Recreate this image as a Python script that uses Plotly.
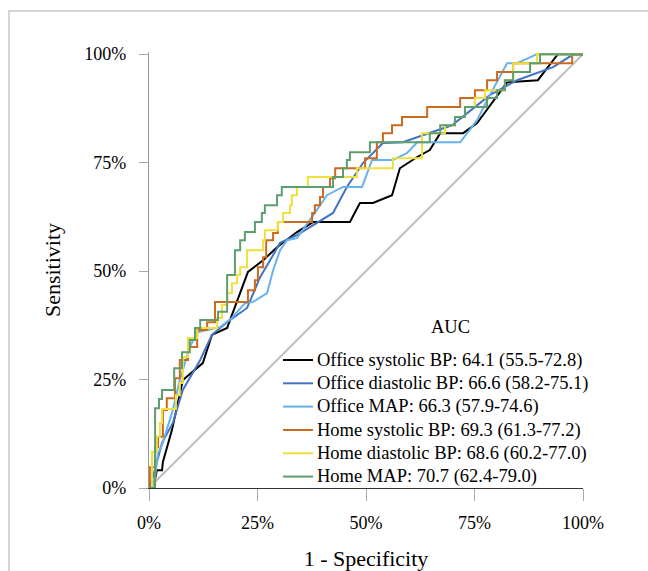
import plotly.graph_objects as go

# ---- data (values in %) ----
office_sys_x = [0, 0.9, 1.4, 1.8, 3.0, 3.2, 5.3, 7.8, 12.4, 14.5, 18.0, 22.8, 26.3, 29.5, 34.1, 37.8, 46.3, 48.6, 51.6, 56.0, 57.8, 61.8, 64.7, 67.1, 72.4, 75.6, 82.5, 89.6, 94.2, 100]
office_sys_y = [0, 0, 2.1, 4.1, 4.1, 6.0, 13.4, 24.9, 28.8, 35.3, 36.9, 49.8, 52.5, 55.5, 59.0, 61.3, 61.3, 65.7, 65.7, 67.5, 73.7, 76.3, 77.9, 81.8, 81.8, 84.1, 93.5, 94.0, 100, 100]

office_dia_x = [0, 0.7, 3.0, 5.5, 7.8, 11.8, 14.5, 18.0, 22.6, 25.6, 27.9, 30.2, 34.1, 42.4, 45.6, 49.3, 53.9, 58.5, 63.1, 69.8, 78.6, 84.8, 93.1, 97.5, 100]
office_dia_y = [0, 1.8, 10.4, 15.0, 22.6, 29.5, 35.3, 38.2, 41.5, 48.6, 52.5, 56.5, 58.3, 63.4, 69.4, 74.9, 79.5, 79.7, 81.3, 83.6, 90.6, 94.0, 97.0, 99.8, 100]

office_map_x = [0, 0.9, 1.4, 2.1, 3.0, 4.1, 5.5, 7.1, 9.4, 11.1, 16.4, 19.1, 22.1, 24.0, 27.2, 28.6, 30.2, 31.8, 34.1, 38.2, 41.0, 44.7, 49.1, 51.4, 56.2, 59.4, 61.8, 71.7, 75.6, 77.9, 82.5, 84.8, 89.4, 100]
office_map_y = [0, 0, 2.5, 8.1, 9.9, 13.4, 18.0, 24.9, 32.5, 35.9, 37.1, 39.2, 42.6, 42.9, 44.9, 50.2, 54.8, 57.1, 57.6, 63.4, 67.5, 69.4, 69.4, 75.6, 75.6, 77.2, 79.7, 79.7, 84.8, 89.4, 97.9, 97.9, 100, 100]

home_sys_x = [0, 0.2, 1.4, 2.1, 3.2, 4.1, 6.0, 7.1, 9.0, 11.1, 13.4, 15.2, 22.8, 24.4, 25.1, 26.3, 27.0, 28.6, 29.7, 37.6, 38.2, 39.4, 40.1, 41.7, 42.9, 49.8, 52.5, 53.9, 56.0, 58.3, 64.1, 71.7, 75.1, 77.9, 80.2, 83.9, 97.5, 100]
home_sys_y = [0, 4.8, 9.4, 11.8, 18.0, 20.7, 25.3, 29.5, 32.5, 36.4, 38.2, 42.9, 45.6, 47.9, 50.9, 53.2, 57.1, 58.8, 61.3, 63.4, 65.2, 67.1, 69.4, 71.4, 73.7, 76.0, 79.7, 81.8, 83.6, 85.5, 87.8, 89.9, 91.7, 94.0, 95.9, 97.9, 100, 100]

home_dia_x = [0, 0.7, 1.8, 2.5, 3.0, 6.2, 7.1, 7.8, 9.0, 11.1, 15.7, 16.8, 18.0, 19.1, 20.3, 21.0, 22.6, 26.3, 26.7, 29.7, 30.9, 32.5, 32.9, 34.1, 36.6, 47.9, 56.2, 62.9, 68.2, 70.5, 72.8, 75.1, 77.4, 82.0, 83.9, 89.4, 100]
home_dia_y = [0, 8.3, 11.8, 15.0, 18.2, 21.4, 24.2, 30.2, 34.6, 36.9, 39.2, 42.2, 44.9, 47.2, 49.1, 50.9, 54.8, 57.1, 59.4, 61.3, 63.4, 65.2, 67.5, 69.4, 71.7, 73.7, 76.0, 81.8, 83.6, 85.5, 87.8, 89.9, 91.7, 94.0, 97.9, 100, 100]

home_map_x = [0, 1.4, 2.3, 3.0, 5.8, 7.6, 9.4, 10.6, 11.8, 15.9, 18.0, 19.8, 21.0, 22.1, 24.4, 26.0, 26.7, 29.5, 30.6, 42.4, 44.7, 45.6, 46.3, 50.9, 64.7, 67.1, 70.5, 72.8, 77.9, 80.2, 82.0, 83.9, 87.8, 90.1, 100]
home_map_y = [0, 18.4, 20.5, 22.6, 27.6, 31.3, 34.1, 36.9, 38.7, 40.6, 49.1, 54.8, 57.1, 59.0, 61.3, 63.4, 65.2, 67.5, 69.4, 71.7, 73.7, 75.6, 77.4, 79.7, 81.8, 83.6, 85.5, 87.8, 89.9, 91.7, 94.0, 95.9, 97.9, 100, 100]

series_names = [
    "Office systolic BP: 64.1 (55.5-72.8)",
    "Office diastolic BP: 66.6 (58.2-75.1)",
    "Office MAP: 66.3 (57.9-74.6)",
    "Home systolic BP: 69.3 (61.3-77.2)",
    "Home diastolic BP: 68.6 (60.2-77.0)",
    "Home MAP: 70.7 (62.4-79.0)",
]
legend_title = "AUC"
x_title = "1 - Specificity"
y_title = "Sensitivity"
tick_vals = [0, 25, 50, 75, 100]
tick_text = ["0%", "25%", "50%", "75%", "100%"]
ref_line = [0, 100]

colors = ["#000000", "#4472c4", "#67b2ea", "#cc6a1e", "#f0e03c", "#5e9e6e"]
series = [
    (office_sys_x, office_sys_y, "linear"),
    (office_dia_x, office_dia_y, "linear"),
    (office_map_x, office_map_y, "linear"),
    (home_sys_x, home_sys_y, "hv"),
    (home_dia_x, home_dia_y, "hv"),
    (home_map_x, home_map_y, "hv"),
]

FONT = "Liberation Serif, Times New Roman, serif"
W, H = 648, 571
L, R, T, B = 149, 65, 52, 83
PW, PH = W - L - R, H - T - B


def px_x(p):
    return (p - L) / PW


def px_y(p):
    return (H - B - p) / PH


fig = go.Figure()
fig.add_trace(go.Scatter(x=ref_line, y=ref_line, mode="lines",
                         line=dict(color="#bdbdbd", width=2),
                         showlegend=False, hoverinfo="skip"))
for (xs, ys, shp), name, col in zip(series, series_names, colors):
    fig.add_trace(go.Scatter(x=xs, y=ys, mode="lines", name=name,
                             showlegend=False,
                             line=dict(color=col, width=2, shape=shp)))

# custom legend (text + line samples)
shapes = [dict(type="rect", xref="paper", yref="paper",
               x0=px_x(9), x1=px_x(660), y0=px_y(580), y1=px_y(11),
               line=dict(color="#c8c8c8", width=1.5), layer="below")]
annotations = [dict(text=legend_title, xref="paper", yref="paper",
                    x=px_x(450), y=px_y(327), xanchor="center", yanchor="middle",
                    showarrow=False, font=dict(size=18.5))]
row_y = [360, 383.3, 406.6, 430, 453.3, 476.6]
for name, col, ry in zip(series_names, colors, row_y):
    shapes.append(dict(type="line", xref="paper", yref="paper",
                       x0=px_x(283), x1=px_x(313), y0=px_y(ry), y1=px_y(ry),
                       line=dict(color=col, width=2)))
    annotations.append(dict(text=name, xref="paper", yref="paper",
                            x=px_x(315), y=px_y(ry), xanchor="left", yanchor="middle",
                            showarrow=False, font=dict(size=18.5)))

fig.update_layout(
    width=W, height=H,
    margin=dict(l=L, r=R, t=T, b=B, autoexpand=False),
    paper_bgcolor="white", plot_bgcolor="white",
    font=dict(family=FONT, size=18, color="black"),
    showlegend=False,
    shapes=shapes, annotations=annotations,
)
fig.update_xaxes(
    range=[0, 100], tickvals=tick_vals, ticktext=tick_text,
    showgrid=False, zeroline=False, automargin=False,
    showline=True, linecolor="#333333", linewidth=1.3,
    ticks="outside", ticklen=12, tickcolor="#aaaaaa", tickwidth=1.3,
    ticklabelstandoff=6,
    title=dict(text=x_title, standoff=19),
)
fig.update_yaxes(
    range=[0, 100.5], tickvals=tick_vals, ticktext=tick_text,
    showgrid=False, zeroline=False, automargin=False,
    showline=True, linecolor="#999999", linewidth=1.3,
    ticks="outside", ticklen=9, tickcolor="#aaaaaa", tickwidth=1.3,
    ticklabelstandoff=9,
    title=dict(text=y_title, standoff=17),
)

fig.write_html(
    "out.html",
    config={"displayModeBar": False},
    post_script="document.body.style.margin='0px';document.body.style.overflow='hidden';",
)
